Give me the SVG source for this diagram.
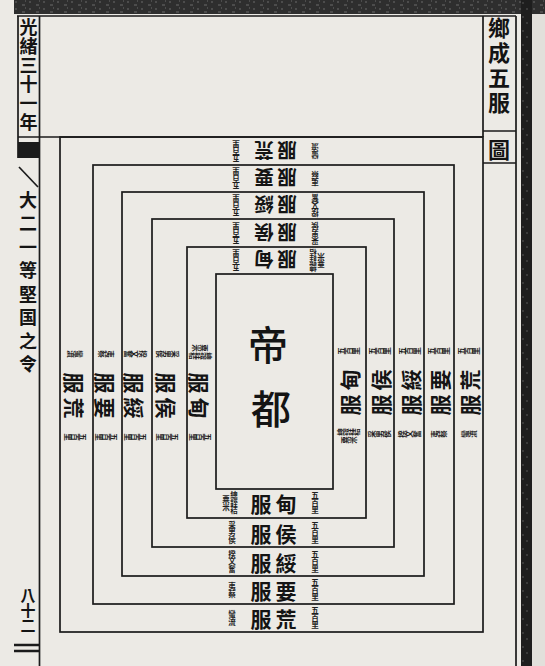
<svg xmlns="http://www.w3.org/2000/svg" width="545" height="666" viewBox="0 0 545 666">
<defs>
<style>
.ln{fill:none;stroke:#1b1b1b;stroke-width:1.7}
.big{font-family:"Noto Sans CJK TC","Noto Sans CJK SC",sans-serif;font-size:21px;font-weight:700;fill:#141414;text-anchor:middle;dominant-baseline:central}
.top .big{font-size:19.5px}
.note{font-family:"Noto Sans CJK TC","Noto Sans CJK SC",sans-serif;font-size:7.5px;font-weight:700;fill:#1e1e1e;text-anchor:middle;writing-mode:vertical-rl}
.ctr{font-family:"Noto Sans CJK TC","Noto Sans CJK SC",sans-serif;font-size:40px;font-weight:500;fill:#141414;text-anchor:middle;dominant-baseline:central}
.vt{font-family:"Noto Sans CJK TC","Noto Sans CJK SC",sans-serif;font-weight:700;fill:#141414;text-anchor:middle;writing-mode:vertical-rl}
</style>
<pattern id="tex" width="14" height="7" patternUnits="userSpaceOnUse">
<rect width="14" height="7" fill="#2e2e2e"/>
<path d="M1 2h2M8 5h3M11 1h1" stroke="#6a6a6a" stroke-width="1"/>
</pattern>
<pattern id="tex2" width="10" height="14" patternUnits="userSpaceOnUse">
<rect width="10" height="14" fill="#1e1e1e"/>
<path d="M3 2v2M7 8v2" stroke="#555" stroke-width="1"/>
</pattern>
</defs>

<g id="page">
<rect width="545" height="666" fill="#eceae5"/>
<rect x="14" y="0" width="531" height="14" fill="url(#tex)"/>
<rect x="521" y="0" width="11" height="666" fill="url(#tex2)"/>
<rect x="532" y="14" width="13" height="652" fill="#e2e0db"/>
<path class="ln" d="M17 16H516M18 16V158M39.5 16V666M516 16V666M18 137H483M483 16V137M483 131H516M483 163H516"/>
<rect x="18" y="142" width="21" height="16" fill="#1b1b1b"/>
<path class="ln" d="M19 167L38 187"/>
<path d="M14 645H39M14 651H39" stroke="#1b1b1b" stroke-width="2.4"/>
</g>

<g id="margin-text">
<text class="vt" x="28.5" y="75" style="font-size:18px;letter-spacing:1px">光緒三十一年</text>
<text class="vt" x="28" y="285" style="font-size:18px;letter-spacing:5.5px">大二一等堅国之令</text>
<text class="vt" x="28" y="610" style="font-size:15px">八十二</text>
</g>

<g id="title">
<text class="vt" x="499" y="67" style="font-size:22px;letter-spacing:3px">鄉成五服</text>
<text class="big" x="499" y="148" style="font-size:22px">圖</text>
</g>

<g id="connectors">
<rect class="ln" x="60" y="137" width="423" height="495"/>
<rect class="ln" x="93" y="165" width="361" height="439"/>
<rect class="ln" x="122" y="192" width="302" height="384"/>
<rect class="ln" x="152" y="219" width="242" height="328"/>
<rect class="ln" x="187" y="247" width="179" height="271"/>
</g>

<g id="capital">
<rect class="ln" x="216" y="274" width="117" height="215"/>
<text class="ctr" x="268" y="343">帝</text>
<text class="ctr" x="271" y="407">都</text>
</g>

<!-- bottom -->
<g id="bottom-dian" transform="translate(273,503)">
<text class="big" x="-12">服</text><text class="big" x="13">甸</text>
<text class="note" x="42" y="0">五百里</text>
<text class="note" x="-39" y="0">總銍秸</text><text class="note" x="-47" y="0">粟米</text>
</g>
<g id="bottom-hou" transform="translate(273,532.5)">
<text class="big" x="-12">服</text><text class="big" x="13">侯</text>
<text class="note" x="42" y="0">五百里</text>
<text class="note" x="-41" y="0">采男侯</text>
</g>
<g id="bottom-sui" transform="translate(273,561.5)">
<text class="big" x="-12">服</text><text class="big" x="13">綏</text>
<text class="note" x="42" y="0">五百里</text>
<text class="note" x="-41" y="0">揆文奮</text>
</g>
<g id="bottom-yao" transform="translate(273,590)">
<text class="big" x="-12">服</text><text class="big" x="13">要</text>
<text class="note" x="42" y="0">五百里</text>
<text class="note" x="-41" y="0">夷蔡</text>
</g>
<g id="bottom-huang" transform="translate(273,618)">
<text class="big" x="-12">服</text><text class="big" x="13">荒</text>
<text class="note" x="42" y="0">五百里</text>
<text class="note" x="-41" y="0">蠻流</text>
</g>

<!-- top -->
<g id="top-dian" class="top" transform="translate(276,260.5) rotate(180)">
<text class="big" x="-11">服</text><text class="big" x="12">甸</text>
<text class="note" x="40" y="0">五百里</text>
<text class="note" x="-37" y="0">總銍秸</text><text class="note" x="-45" y="0">粟米</text>
</g>
<g id="top-hou" class="top" transform="translate(276,233) rotate(180)">
<text class="big" x="-11">服</text><text class="big" x="12">侯</text>
<text class="note" x="40" y="0">五百里</text>
<text class="note" x="-39" y="0">采男侯</text>
</g>
<g id="top-sui" class="top" transform="translate(276,205.5) rotate(180)">
<text class="big" x="-11">服</text><text class="big" x="12">綏</text>
<text class="note" x="40" y="0">五百里</text>
<text class="note" x="-39" y="0">揆文奮</text>
</g>
<g id="top-yao" class="top" transform="translate(276,178.5) rotate(180)">
<text class="big" x="-11">服</text><text class="big" x="12">要</text>
<text class="note" x="40" y="0">五百里</text>
<text class="note" x="-39" y="0">夷蔡</text>
</g>
<g id="top-huang" class="top" transform="translate(276,151) rotate(180)">
<text class="big" x="-11">服</text><text class="big" x="12">荒</text>
<text class="note" x="40" y="0">五百里</text>
<text class="note" x="-39" y="0">蠻流</text>
</g>

<!-- left -->
<g id="left-dian" transform="translate(200,395) rotate(90)">
<text class="big" x="-12">服</text><text class="big" x="13">甸</text>
<text class="note" x="42" y="0">五百里</text>
<text class="note" x="-39" y="0">總銍秸</text><text class="note" x="-47" y="0">粟米</text>
</g>
<g id="left-hou" transform="translate(167,395) rotate(90)">
<text class="big" x="-12">服</text><text class="big" x="13">侯</text>
<text class="note" x="42" y="0">五百里</text>
<text class="note" x="-41" y="0">采男侯</text>
</g>
<g id="left-sui" transform="translate(135,395) rotate(90)">
<text class="big" x="-12">服</text><text class="big" x="13">綏</text>
<text class="note" x="42" y="0">五百里</text>
<text class="note" x="-41" y="0">揆文奮</text>
</g>
<g id="left-yao" transform="translate(106,395) rotate(90)">
<text class="big" x="-12">服</text><text class="big" x="13">要</text>
<text class="note" x="42" y="0">五百里</text>
<text class="note" x="-41" y="0">夷蔡</text>
</g>
<g id="left-huang" transform="translate(75,395) rotate(90)">
<text class="big" x="-12">服</text><text class="big" x="13">荒</text>
<text class="note" x="42" y="0">五百里</text>
<text class="note" x="-41" y="0">蠻流</text>
</g>

<!-- right -->
<g id="right-dian" transform="translate(349,393) rotate(-90)">
<text class="big" x="-12">服</text><text class="big" x="13">甸</text>
<text class="note" x="42" y="0">五百里</text>
<text class="note" x="-39" y="0">總銍秸</text><text class="note" x="-47" y="0">粟米</text>
</g>
<g id="right-hou" transform="translate(380,393) rotate(-90)">
<text class="big" x="-12">服</text><text class="big" x="13">侯</text>
<text class="note" x="42" y="0">五百里</text>
<text class="note" x="-41" y="0">采男侯</text>
</g>
<g id="right-sui" transform="translate(409.5,393) rotate(-90)">
<text class="big" x="-12">服</text><text class="big" x="13">綏</text>
<text class="note" x="42" y="0">五百里</text>
<text class="note" x="-41" y="0">揆文奮</text>
</g>
<g id="right-yao" transform="translate(439,393) rotate(-90)">
<text class="big" x="-12">服</text><text class="big" x="13">要</text>
<text class="note" x="42" y="0">五百里</text>
<text class="note" x="-41" y="0">夷蔡</text>
</g>
<g id="right-huang" transform="translate(469,393) rotate(-90)">
<text class="big" x="-12">服</text><text class="big" x="13">荒</text>
<text class="note" x="42" y="0">五百里</text>
<text class="note" x="-41" y="0">蠻流</text>
</g>
</svg>
